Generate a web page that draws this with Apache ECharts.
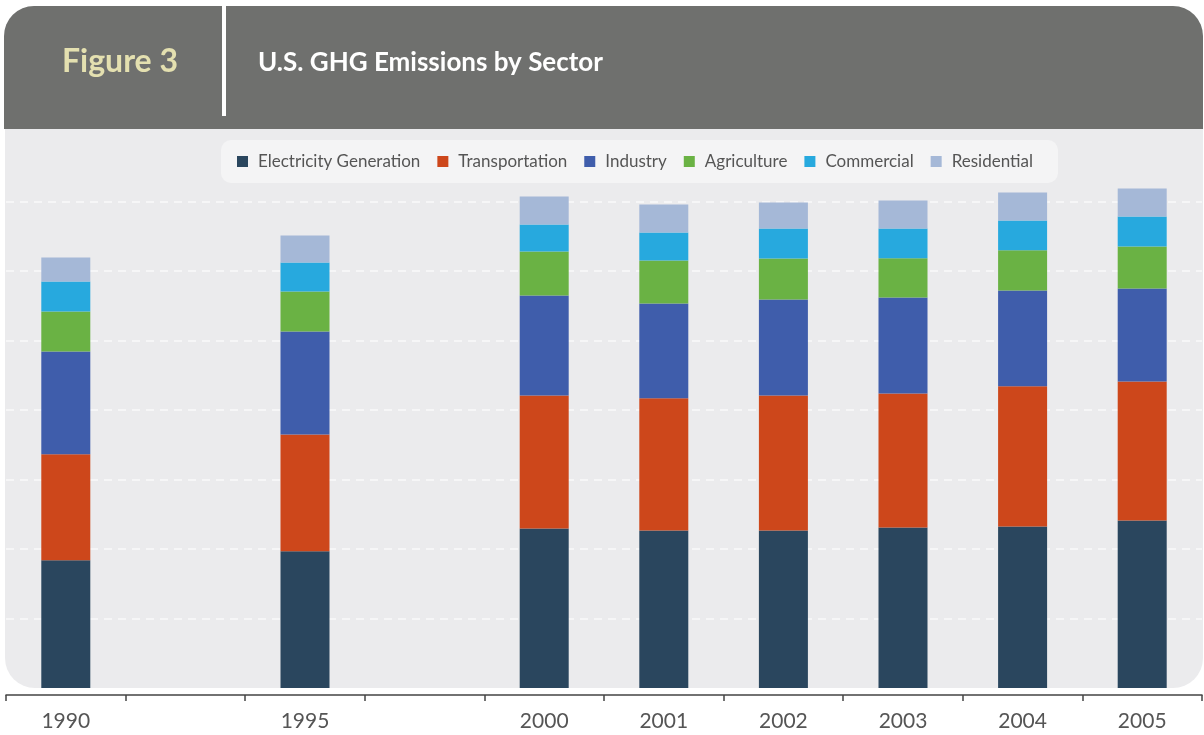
<!DOCTYPE html>
<html>
<head>
<meta charset="utf-8">
<script src="https://cdn.jsdelivr.net/npm/echarts@6/dist/echarts.min.js"></script>
<style>
html,body{margin:0;padding:0;background:#ffffff;}
#chart{width:1204px;height:735px;}
</style>
</head>
<body>
<div id="chart"></div>
<script>
// Data (Tg CO2 eq.)
const categories = ['1990', '', '1995', '', '2000', '2001', '2002', '2003', '2004', '2005'];
const seriesNames = ['Electricity Generation', 'Transportation', 'Industry', 'Agriculture', 'Commercial', 'Residential'];
const electricity    = [1839, null, 1968, null, 2295, 2266, 2266, 2309, 2324, 2410];
const transportation = [1525, null, 1679, null, 1914, 1904, 1942, 1928, 2019, 2000];
const industry       = [1478, null, 1482, null, 1439, 1362, 1381, 1381, 1377, 1338];
const agriculture    = [ 576, null,  576, null,  633,  619,  590,  565,  580,  604];
const commercial     = [ 432, null,  417, null,  388,  403,  432,  427,  427,  432];
const residential    = [ 345, null,  388, null,  403,  403,  374,  403,  403,  403];
const colors = ['#2a465e', '#cd471b', '#3f5dab', '#6ab244', '#27a9de', '#a5b8d7'];

const seriesData = [electricity, transportation, industry, agriculture, commercial, residential];

const chart = echarts.init(document.getElementById('chart'), null, {renderer: 'canvas'});

const option = {
  backgroundColor: '#ffffff',
  animation: false,
  color: colors,
  graphic: {
    elements: [
      { type: 'rect', z: -100, shape: { x: 4, y: 6, width: 1199, height: 123, r: [30, 30, 0, 0] }, style: { fill: '#6f706e' } },
      { type: 'rect', z: -100, shape: { x: 5, y: 129, width: 1198, height: 559, r: [0, 0, 30, 30] }, style: { fill: '#ebebed' } },
      { type: 'rect', z: -90, shape: { x: 222, y: 6, width: 4, height: 110 }, style: { fill: '#ffffff' } },
      { type: 'text', z: -90, x: 62, y: 62, style: { text: 'Figure 3', fill: '#e4e0b0', font: 'bold 32px Lato, "Open Sans", sans-serif', textVerticalAlign: 'middle', verticalAlign: 'middle' } },
      { type: 'text', z: -90, x: 258, y: 63, style: { text: 'U.S. GHG Emissions by Sector', fill: '#ffffff', font: 'bold 26px Lato, "Open Sans", sans-serif', textVerticalAlign: 'middle', verticalAlign: 'middle' } }
    ]
  },
  legend: {
    data: seriesNames,
    top: 140,
    left: 221,
    itemWidth: 11,
    itemHeight: 11,
    itemGap: 17,
    icon: 'rect',
    padding: [13, 25, 13, 16],
    backgroundColor: '#f4f4f5',
    borderRadius: 10,
    textStyle: { color: '#555555', fontSize: 17, fontFamily: 'Lato, sans-serif', padding: [0, 0, 0, 5] }
  },
  grid: { left: 6, right: 2, top: 132, bottom: 47, containLabel: false },
  xAxis: {
    type: 'category',
    data: categories,
    offset: 7,
    axisLine: { show: true, onZero: false, lineStyle: { color: '#444444', width: 1.5 } },
    axisTick: { show: true, length: 6, lineStyle: { color: '#444444', width: 1.5 } },
    axisLabel: { color: '#555555', fontSize: 21, fontFamily: 'Lato, sans-serif', margin: 16, interval: 0 },
    splitLine: { show: false }
  },
  yAxis: {
    type: 'value',
    min: 0,
    max: 8000,
    interval: 1000,
    axisLine: { show: false },
    axisTick: { show: false },
    axisLabel: { show: false },
    splitLine: { show: true, showMinLine: false, showMaxLine: false, lineStyle: { color: '#fafafa', width: 1.5, type: [8, 6] } }
  },
  series: seriesNames.map((name, i) => ({
    name: name,
    type: 'bar',
    stack: 'total',
    barWidth: 49,
    data: seriesData[i],
    itemStyle: { color: colors[i] }
  }))
};
chart.setOption(option);
</script>
</body>
</html>
